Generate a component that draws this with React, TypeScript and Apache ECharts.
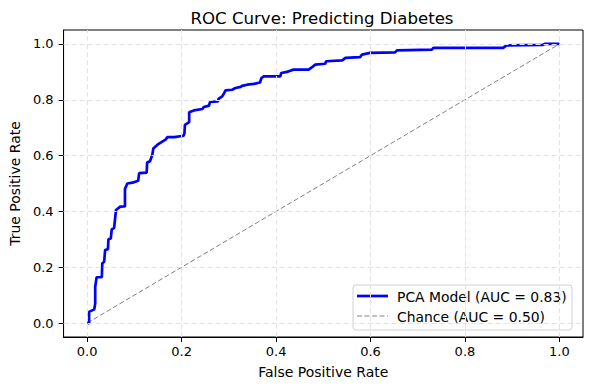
import React, { useEffect, useRef } from "react";
import * as echarts from "echarts";

const titleText = "ROC Curve: Predicting Diabetes";
const xName = "False Positive Rate";
const yName = "True Positive Rate";
const modelName = "PCA Model (AUC = 0.83)";
const chanceName = "Chance (AUC = 0.50)";
const tickValues = [0, 0.2, 0.4, 0.6, 0.8, 1.0];

const fpr = [0, 0.004, 0.004, 0.015, 0.017, 0.017, 0.02, 0.031, 0.032, 0.036, 0.038, 0.044, 0.045, 0.05, 0.052, 0.057, 0.061, 0.07, 0.08, 0.08, 0.085, 0.096, 0.108, 0.11, 0.126, 0.127, 0.133, 0.138, 0.14, 0.149, 0.159, 0.166, 0.17, 0.185, 0.204, 0.206, 0.207, 0.216, 0.216, 0.226, 0.244, 0.247, 0.258, 0.26, 0.277, 0.278, 0.286, 0.29, 0.293, 0.307, 0.314, 0.325, 0.328, 0.339, 0.353, 0.366, 0.369, 0.374, 0.409, 0.411, 0.423, 0.43, 0.437, 0.469, 0.474, 0.483, 0.504, 0.506, 0.54, 0.547, 0.578, 0.582, 0.599, 0.652, 0.656, 0.73, 0.733, 0.881, 0.888, 0.965, 0.969, 1.0];
const tpr = [0, 0.0, 0.04, 0.049, 0.07, 0.13, 0.164, 0.164, 0.214, 0.22, 0.262, 0.265, 0.3, 0.303, 0.336, 0.34, 0.405, 0.417, 0.418, 0.48, 0.5, 0.503, 0.51, 0.537, 0.539, 0.575, 0.58, 0.603, 0.625, 0.639, 0.65, 0.657, 0.666, 0.666, 0.671, 0.68, 0.71, 0.72, 0.755, 0.762, 0.767, 0.774, 0.779, 0.792, 0.794, 0.803, 0.812, 0.824, 0.834, 0.836, 0.842, 0.846, 0.85, 0.854, 0.857, 0.862, 0.878, 0.884, 0.884, 0.896, 0.9, 0.904, 0.908, 0.908, 0.914, 0.926, 0.929, 0.938, 0.941, 0.95, 0.953, 0.962, 0.968, 0.97, 0.977, 0.98, 0.986, 0.986, 0.995, 0.997, 1.0, 1.0];
const chanceX = [0, 1];
const chanceY = [0, 1];

const FONT = "DejaVu Sans";
const BLUE = "#0000ff";
const GRAY = "#808080";

export default function App() {
  const ref = useRef<HTMLDivElement>(null);
  useEffect(() => {
    if (!ref.current) return;
    const chart = echarts.init(ref.current, null, { renderer: "svg" });
    const gridLineStyle = { color: "#e2e2e2", type: [5, 3], width: 1 };
    const axisCommon = {
      type: "value",
      min: -0.05,
      max: 1.05,
      splitLine: { show: false },
      axisLine: { show: true, onZero: false, lineStyle: { color: "#000", width: 1 } },
      axisTick: { show: true, inside: false, length: 5, customValues: tickValues, lineStyle: { color: "#000" } },
      axisLabel: {
        customValues: tickValues,
        formatter: (v: number) => v.toFixed(1),
        color: "#000",
        fontSize: 13,
        fontFamily: FONT,
        margin: 8,
      },
      nameLocation: "middle",
      nameTextStyle: { color: "#000", fontSize: 14, fontFamily: FONT },
    };
    const lx = 353, ly = 285, lw = 219, lh = 45;
    chart.setOption({
      animation: false,
      backgroundColor: "#fff",
      grid: { left: 62, top: 30, width: 521, height: 307, show: true, borderColor: "#000", borderWidth: 1, backgroundColor: "transparent" },
      xAxis: { ...axisCommon, name: xName, nameGap: 28 },
      yAxis: { ...axisCommon, name: yName, nameGap: 38, axisLabel: { ...axisCommon.axisLabel, margin: 10 } },
      graphic: [
        {
          type: "text",
          x: 322,
          y: 18,
          style: { text: titleText, fontSize: 16.6, fontFamily: FONT, fill: "#000", textAlign: "center", textVerticalAlign: "middle" },
        },
        {
          type: "group",
          z: 100,
          children: [
            {
              type: "rect",
              shape: { x: lx, y: ly, width: lw, height: lh, r: 3 },
              style: { fill: "rgba(255,255,255,0.85)", stroke: "#d0d0d0", lineWidth: 1 },
            },
            {
              type: "line",
              shape: { x1: lx + 4, y1: ly + 11, x2: lx + 35, y2: ly + 11 },
              style: { stroke: BLUE, lineWidth: 2.7 },
            },
            {
              type: "text",
              x: lx + 44,
              y: ly + 11.5,
              style: { text: modelName, fontSize: 13.9, fontFamily: FONT, fill: "#000", textVerticalAlign: "middle" },
            },
            {
              type: "line",
              shape: { x1: lx + 4, y1: ly + 31, x2: lx + 35, y2: ly + 31 },
              style: { stroke: GRAY, lineWidth: 1, lineDash: [5, 2.5] },
            },
            {
              type: "text",
              x: lx + 44,
              y: ly + 31.5,
              style: { text: chanceName, fontSize: 13.9, fontFamily: FONT, fill: "#000", textVerticalAlign: "middle" },
            },
          ],
        },
      ],
      series: [
        {
          name: "gridlines",
          type: "line",
          data: [],
          z: 1,
          silent: true,
          markLine: {
            silent: true,
            symbol: ["none", "none"],
            label: { show: false },
            lineStyle: gridLineStyle,
            emphasis: { disabled: true },
            data: [
              ...tickValues.map((v) => ({ xAxis: v })),
              ...tickValues.map((v) => ({ yAxis: v })),
            ],
          },
        },
        {
          name: modelName,
          type: "line",
          z: 4,
          showSymbol: false,
          symbol: "none",
          data: fpr.map((x, i) => [x, tpr[i]]),
          lineStyle: { color: BLUE, width: 2.7 },
          itemStyle: { color: BLUE },
        },
        {
          name: chanceName,
          type: "line",
          z: 3,
          showSymbol: false,
          symbol: "none",
          data: chanceX.map((x, i) => [x, chanceY[i]]),
          lineStyle: { color: GRAY, width: 1, type: [5, 2.5] },
          itemStyle: { color: GRAY },
        },
      ],
    });
    return () => chart.dispose();
  }, []);
  return <div ref={ref} style={{ width: 590, height: 390, position: "absolute", left: 0, top: 0 }} />;
}
